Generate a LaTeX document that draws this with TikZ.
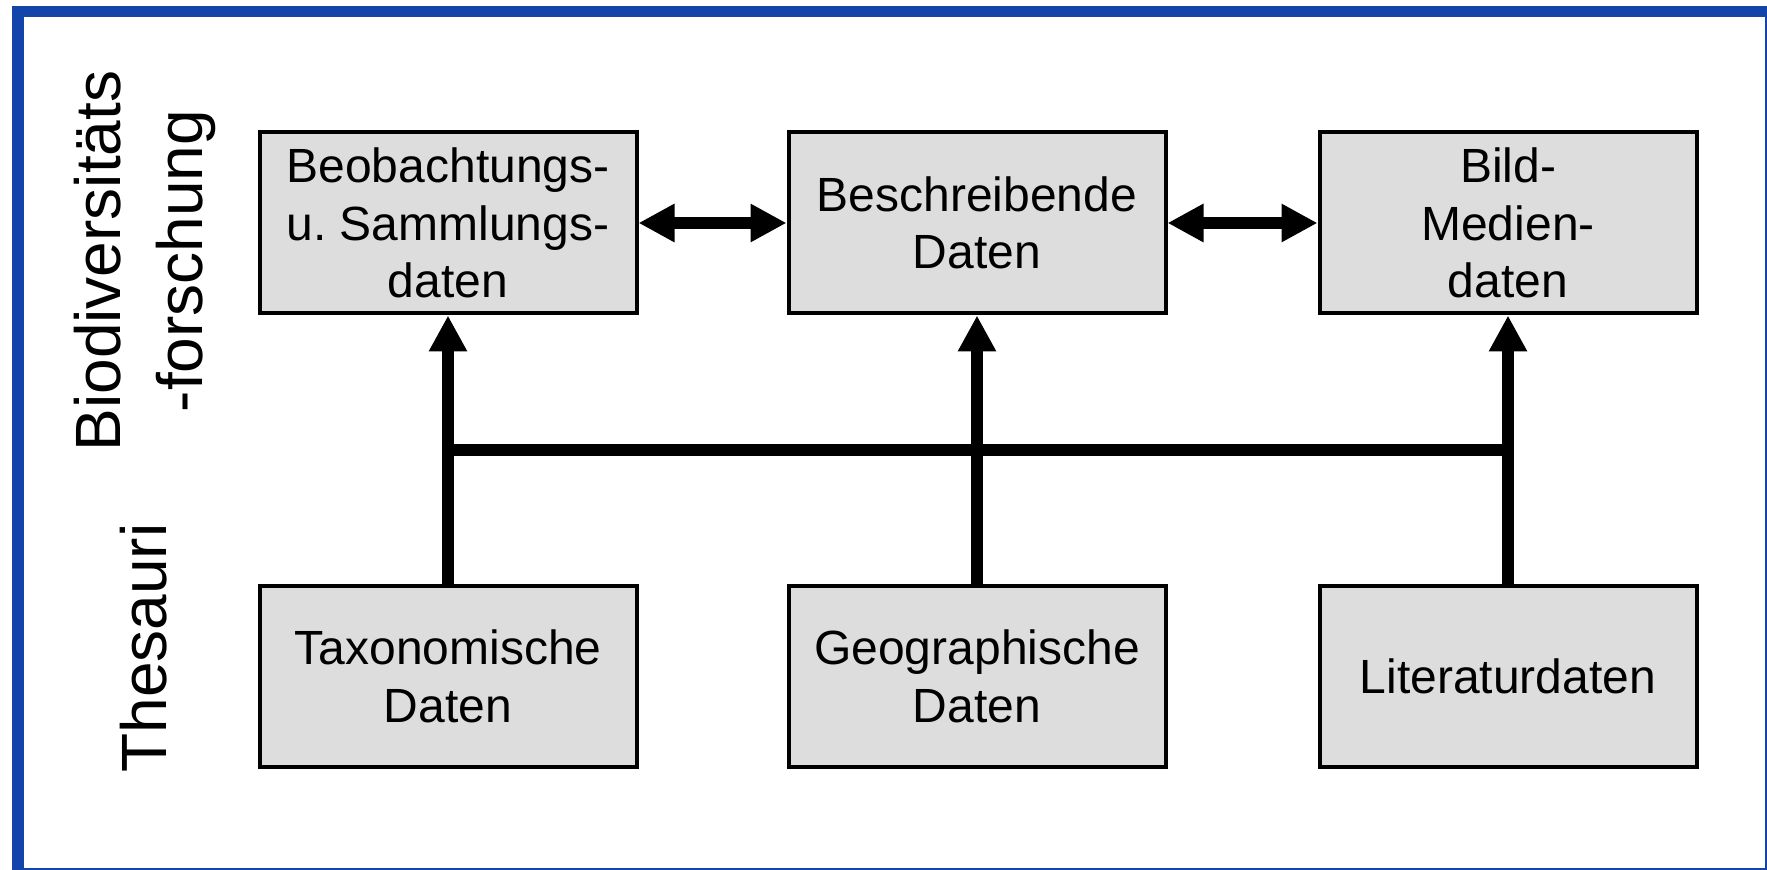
\documentclass[tikz,border=0pt]{standalone}
\usepackage{fontspec}
\setmainfont{Liberation Sans}
\usetikzlibrary{arrows.meta}
\definecolor{frameblue}{RGB}{18,68,170}
\definecolor{boxgray}{RGB}{221,221,221}

\begin{document}
\begin{tikzpicture}[x=0.5pt,y=0.5pt]
		\tikzstyle{every node}+=[inner sep=0pt]
		\tikzstyle{datbox}=[draw=black,line width=2pt,fill=boxgray,minimum width=188.5pt,minimum height=90.5pt,align=center,font=\fontsize{24}{28.8}\selectfont]
		\tikzstyle{side}=[rotate=90,align=center,font=\fontsize{32}{41}\selectfont]
		\tikzstyle{conn}=[black,line width=6pt]
		\tikzstyle{tip}=[-{Triangle[length=18pt,width=18pt]}]
		\tikzstyle{dbltip}=[{Triangle[length=18pt,width=18pt]}-{Triangle[length=18pt,width=18pt]}]
		\useasboundingbox (0,0) rectangle (1767,-870);
		\clip (0,0) rectangle (1767,-870);
		% frame
		\draw [frameblue,line width=5.75pt] (17.75,-11.5) rectangle (1770.75,-873.4);
		% side labels
		\node [side] (forschung) at (145,-261) {Biodiversitäts\\-forschung};
		\node [side] (thesauri) at (144,-648) {Thesauri};
		% upper row
		\node [datbox] (beob) at (448,-223) {Beobachtungs-\\u.\ Sammlungs-\\daten};
		\node [datbox] (beschr) at (977,-223) {Beschreibende\\Daten};
		\node [datbox] (bild) at (1508,-223) {Bild-\\Medien-\\daten};
		% lower row
		\node [datbox] (taxo) at (448,-676.5) {Taxonomische\\Daten};
		\node [datbox] (geo) at (977,-676.5) {Geographische\\Daten};
		\node [datbox] (lit) at (1508,-676.5) {Literaturdaten};
		% arrows
		\draw [conn,dbltip] (beob.east) -- (beschr.west);
		\draw [conn,dbltip] (beschr.east) -- (bild.west);
		\draw [conn,tip] (taxo.north) -- (beob.south);
		\draw [conn,tip] (geo.north) -- (beschr.south);
		\draw [conn,tip] (lit.north) -- (bild.south);
		\coordinate (busL) at (448,-450);
		\coordinate (busR) at (1508,-450);
		\draw [conn] (busL) -- (busR);
\end{tikzpicture}
\end{document}
